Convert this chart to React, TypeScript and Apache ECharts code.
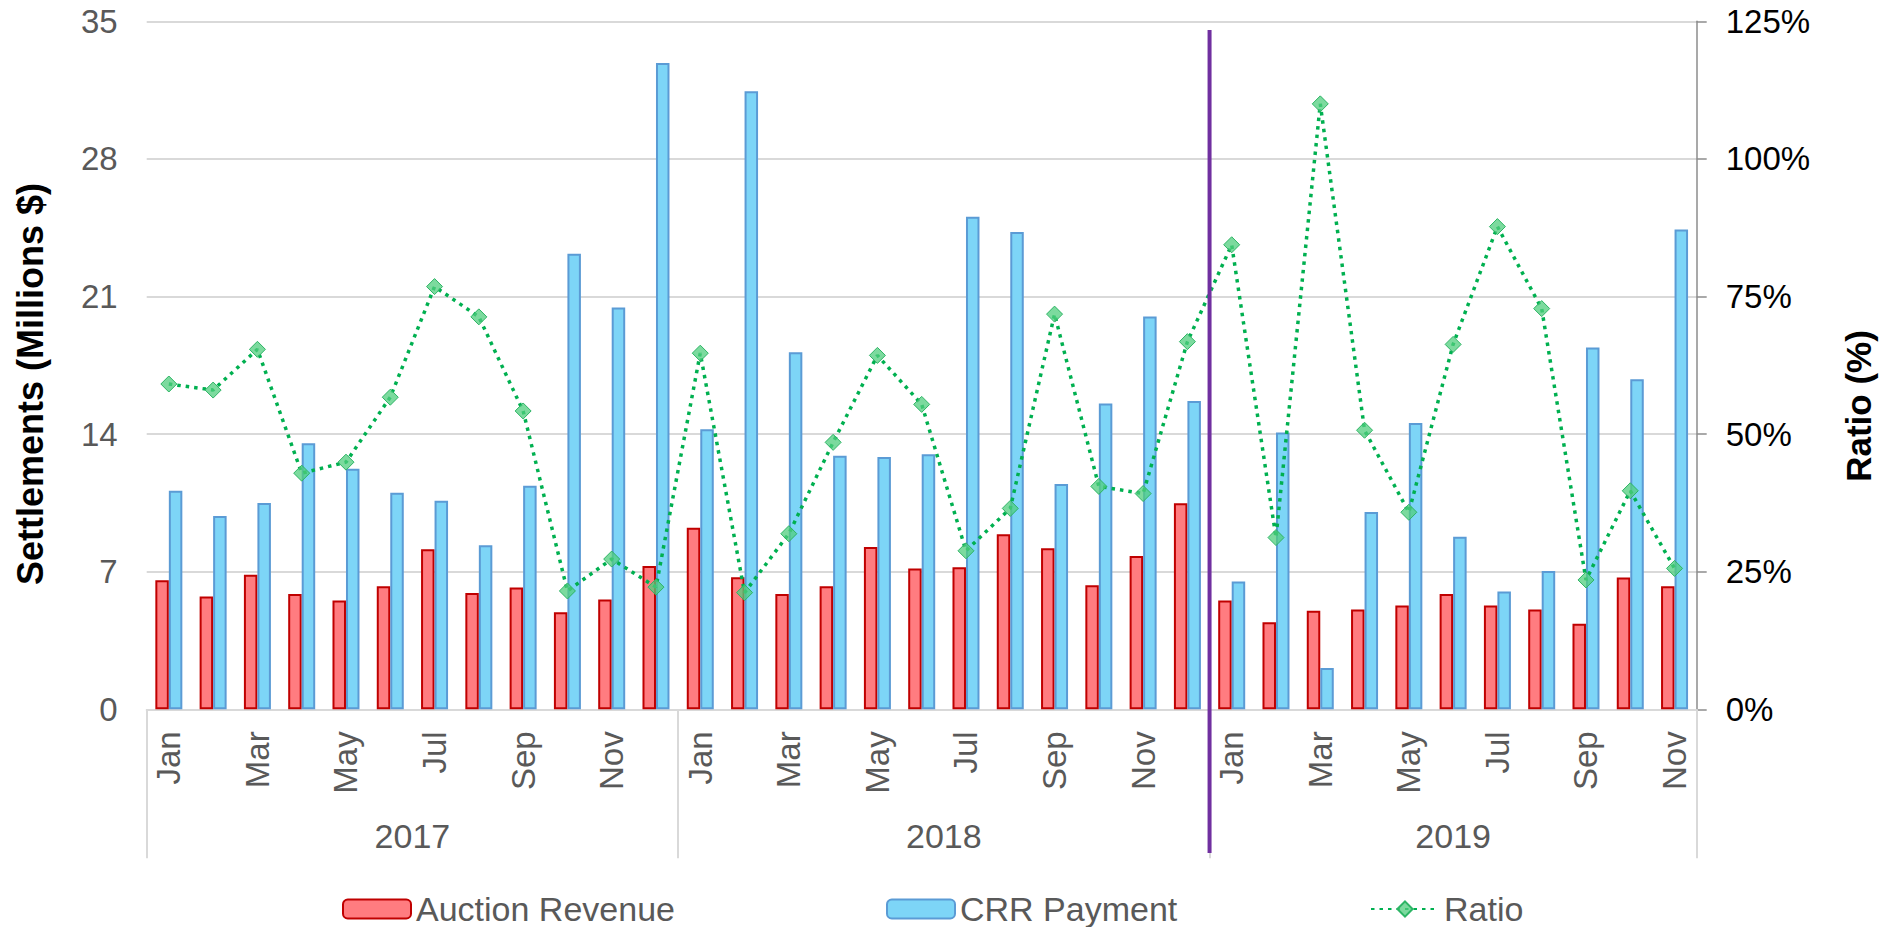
import React, { useEffect, useRef } from "react";
import * as echarts from "echarts";

const months = [
  "Jan", "Feb", "Mar", "Apr", "May", "Jun", "Jul", "Aug", "Sep", "Oct", "Nov", "Dec",
  "Jan", "Feb", "Mar", "Apr", "May", "Jun", "Jul", "Aug", "Sep", "Oct", "Nov", "Dec",
  "Jan", "Feb", "Mar", "Apr", "May", "Jun", "Jul", "Aug", "Sep", "Oct", "Nov",
];

const years = ["2017", "2018", "2019"];
const yearStarts = [0, 12, 24, 35];

const auctionRevenue = [
  6.57, 5.74, 6.84, 5.87, 5.53, 6.26, 8.14, 5.92, 6.19, 4.94, 5.58, 7.29,
  9.24, 6.72, 5.86, 6.26, 8.26, 7.16, 7.23, 8.9, 8.19, 6.31, 7.8, 10.48,
  5.53, 4.43, 5.01, 5.08, 5.28, 5.86, 5.28, 5.08, 4.35, 6.7, 6.26,
];

const crrPayment = [
  11.12, 9.83, 10.49, 13.54, 12.24, 11.02, 10.61, 8.35, 11.37, 23.18, 20.44, 32.88,
  14.25, 31.44, 18.17, 12.9, 12.83, 12.97, 25.06, 24.28, 11.46, 15.56, 19.98, 15.69,
  6.5, 14.08, 2.1, 10.04, 14.56, 8.78, 5.99, 7.03, 18.4, 16.79, 24.41,
];

const ratio = [
  59.1, 58.0, 65.4, 42.9, 44.9, 56.7, 76.8, 71.3, 54.2, 21.5, 27.3, 22.2,
  64.7, 21.2, 31.9, 48.5, 64.3, 55.4, 28.8, 36.5, 71.8, 40.5, 39.2, 66.8,
  84.4, 31.2, 110.0, 50.7, 35.8, 66.3, 87.7, 72.8, 23.5, 39.7, 25.6,
];

const leftTicks = { min: 0, max: 35, interval: 7 };
const rightTicks = { min: 0, max: 125, interval: 25 };
const markerBoundaryIndex = 24; // boundary between Dec 2018 and Jan 2019

const FONT = "'Liberation Sans', Arial, sans-serif";

export default function App() {
  const ref = useRef<HTMLDivElement>(null);

  useEffect(() => {
    document.body.style.margin = "0";
    if (!ref.current) return;
    const chart = echarts.init(ref.current, null, { renderer: "svg" });

    const yearCenters = years.map((_, i) => (yearStarts[i] + yearStarts[i + 1]) / 2);

    const legendText = { fontSize: 34, color: "#595959", fontFamily: FONT, lineHeight: 34 };

    const option: any = {
      animation: false,
      backgroundColor: "#ffffff",
      textStyle: { fontFamily: FONT },
      grid: {
        left: 146.7,
        right: 182.3,
        top: 21.3,
        bottom: 217.7,
        containLabel: false,
        outerBoundsMode: "none",
      },
      legend: [
        {
          data: ["Auction Revenue"],
          left: 342,
          top: 892,
          padding: 0,
          itemWidth: 68,
          itemHeight: 19,
          itemGap: 0,
          textStyle: legendText,
        },
        {
          data: ["CRR Payment"],
          left: 886,
          top: 892,
          padding: 0,
          itemWidth: 68,
          itemHeight: 19,
          itemGap: 0,
          textStyle: legendText,
        },
        {
          data: ["Ratio"],
          left: 1370,
          top: 892,
          padding: 0,
          itemWidth: 68,
          itemHeight: 19,
          itemGap: 0,
          textStyle: legendText,
        },
      ],
      xAxis: [
        {
          type: "category",
          data: months,
          position: "bottom",
          axisLine: { show: true, lineStyle: { color: "#D9D9D9", width: 2 } },
          axisTick: { show: false },
          axisLabel: {
            interval: 1,
            rotate: 90,
            fontSize: 33,
            color: "#595959",
            fontFamily: FONT,
            margin: 22,
          },
          splitLine: { show: false },
        },
        {
          type: "value",
          min: 0,
          max: 35,
          position: "bottom",
          offset: 0,
          axisLine: { show: false },
          axisTick: {
            show: true,
            inside: false,
            length: 149,
            customValues: yearStarts,
            lineStyle: { color: "#D9D9D9", width: 2 },
          },
          axisLabel: {
            show: true,
            inside: false,
            margin: 110,
            customValues: yearCenters,
            fontSize: 34,
            color: "#595959",
            fontFamily: FONT,
            formatter: (v: number) => {
              const idx = yearCenters.findIndex((c) => Math.abs(c - v) < 0.01);
              return idx >= 0 ? years[idx] : "";
            },
          },
          splitLine: { show: false },
        },
      ],
      yAxis: [
        {
          type: "value",
          min: leftTicks.min,
          max: leftTicks.max,
          interval: leftTicks.interval,
          axisLine: { show: false },
          axisTick: { show: false },
          axisLabel: { fontSize: 33, color: "#595959", fontFamily: FONT, margin: 29 },
          splitLine: { show: true, lineStyle: { color: "#D9D9D9", width: 2 } },
        },
        {
          type: "value",
          position: "right",
          min: rightTicks.min,
          max: rightTicks.max,
          interval: rightTicks.interval,
          axisLine: { show: true, lineStyle: { color: "#8C8C8C", width: 1.5 } },
          axisTick: { show: true, length: 10, lineStyle: { color: "#8C8C8C", width: 1.5 } },
          axisLabel: {
            fontSize: 33,
            color: "#000000",
            fontFamily: FONT,
            margin: 29,
            formatter: "{value}%",
          },
          splitLine: { show: false },
        },
      ],
      series: [
        {
          name: "Auction Revenue",
          type: "bar",
          xAxisIndex: 0,
          yAxisIndex: 0,
          data: auctionRevenue,
          barWidth: 13.5,
          barGap: "0%",
          itemStyle: { color: "#FF7C80", borderColor: "#C00000", borderWidth: 2 },
          z: 2,
        },
        {
          name: "CRR Payment",
          type: "bar",
          xAxisIndex: 0,
          yAxisIndex: 0,
          data: crrPayment,
          barWidth: 13.5,
          barGap: "0%",
          itemStyle: { color: "#7DD5F7", borderColor: "#5B9BD5", borderWidth: 2 },
          z: 2,
        },
        {
          name: "Ratio",
          type: "line",
          xAxisIndex: 0,
          yAxisIndex: 1,
          data: ratio,
          symbol: "diamond",
          symbolSize: 16,
          lineStyle: { color: "#00B050", width: 3.5, type: [3.5, 5] },
          itemStyle: {
            color: "rgba(80,205,125,0.75)",
            borderColor: "#2DB565",
            borderWidth: 1,
          },
          z: 4,
        },
      ],
    };

    chart.setOption(option);

    const xBoundary = chart.convertToPixel({ xAxisIndex: 1 }, markerBoundaryIndex) as number;

    chart.setOption({
      graphic: [
        {
          type: "text",
          x: 30,
          y: 384,
          rotation: Math.PI / 2,
          style: {
            text: "Settlements (Millions $)",
            fontSize: 36,
            fontWeight: "bold",
            fontFamily: FONT,
            fill: "#000000",
            align: "center",
            verticalAlign: "middle",
          },
        },
        {
          type: "text",
          x: 1858,
          y: 406,
          rotation: Math.PI / 2,
          style: {
            text: "Ratio (%)",
            fontSize: 35,
            fontWeight: "bold",
            fontFamily: FONT,
            fill: "#000000",
            align: "center",
            verticalAlign: "middle",
          },
        },
        {
          type: "line",
          z: 100,
          shape: { x1: xBoundary, y1: 30, x2: xBoundary, y2: 853 },
          style: { stroke: "#7030A0", lineWidth: 4 },
        },
      ],
    });

    return () => {
      chart.dispose();
    };
  }, []);

  return <div ref={ref} style={{ width: 1879, height: 927 }} />;
}
